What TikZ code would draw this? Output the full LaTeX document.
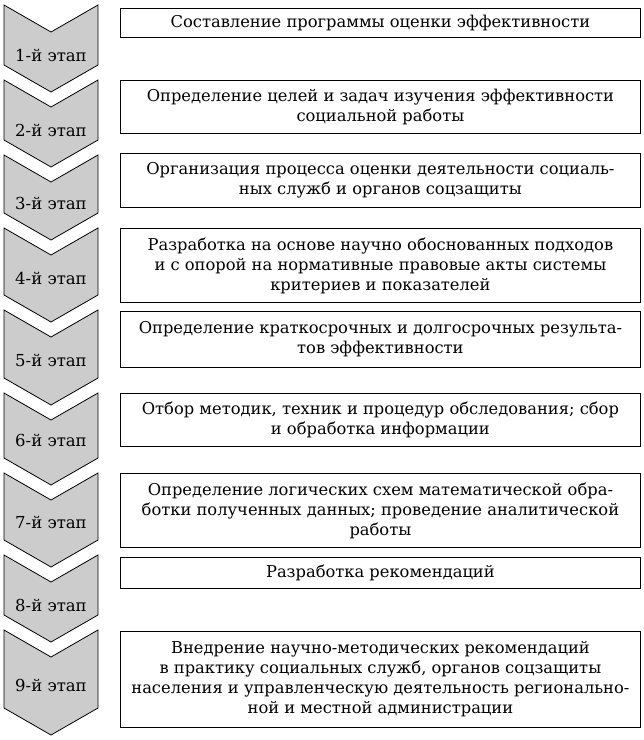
\documentclass[tikz,border=0pt]{standalone}
\usepackage{fontspec}
\setmainfont{DejaVu Serif}
\tikzset{
    stagebox/.style={draw,thick,fill=white,align=center,font=\fontsize{16.3}{20}\selectfont,
        minimum width=520pt,inner sep=0pt,anchor=north west},
    chev/.style={draw,thick,fill=gray!40},
    stagelbl/.style={font=\fontsize{16.5}{20}\selectfont}
}
\begin{document}
\begin{tikzpicture}[x=1pt,y=-1pt]
    \useasboundingbox (0,0) rectangle (644,740);
    % chevrons: top, bottom point, label y
    \foreach \n/\t/\b/\l in {1/5/92/55,2/80/167/130,3/155/240/203,4/228/322/278,5/310/405/360,6/393/485/440,7/473/567/522,8/555/642/605,9/630/735/685}{
        \draw[chev] (4,\t) -- (51,\t+27) -- (98,\t) -- (98,\b-27) -- (51,\b) -- (4,\b-27) -- cycle;
        \node[stagelbl] (s\n) at (51,\l) {\n-й этап};
    }
    \node[stagebox,minimum height=29pt] (b1) at (120,8) {Составление программы оценки эффективности};
    \node[stagebox,minimum height=53pt] (b2) at (120,80) {Определение целей и задач изучения эффективности\\социальной работы};
    \node[stagebox,minimum height=54pt] (b3) at (120,153) {Организация процесса оценки деятельности социаль-\\ных служб и органов соцзащиты};
    \node[stagebox,minimum height=74pt] (b4) at (120,228) {Разработка на основе научно обоснованных подходов\\и с опорой на нормативные правовые акты системы\\критериев и показателей};
    \node[stagebox,minimum height=56pt] (b5) at (120,311) {Определение краткосрочных и долгосрочных результа-\\тов эффективности};
    \node[stagebox,minimum height=53pt] (b6) at (120,393) {Отбор методик, техник и процедур обследования; сбор\\и обработка информации};
    \node[stagebox,minimum height=74pt] (b7) at (120,473) {Определение логических схем математической обра-\\ботки полученных данных; проведение аналитической\\работы};
    \node[stagebox,minimum height=31pt] (b8) at (120,557) {Разработка рекомендаций};
    \node[stagebox,minimum height=96pt] (b9) at (120,631) {Внедрение научно-методических рекомендаций\\в практику социальных служб, органов соцзащиты\\населения и управленческую деятельность регионально-\\ной и местной администрации};
\end{tikzpicture}
\end{document}
